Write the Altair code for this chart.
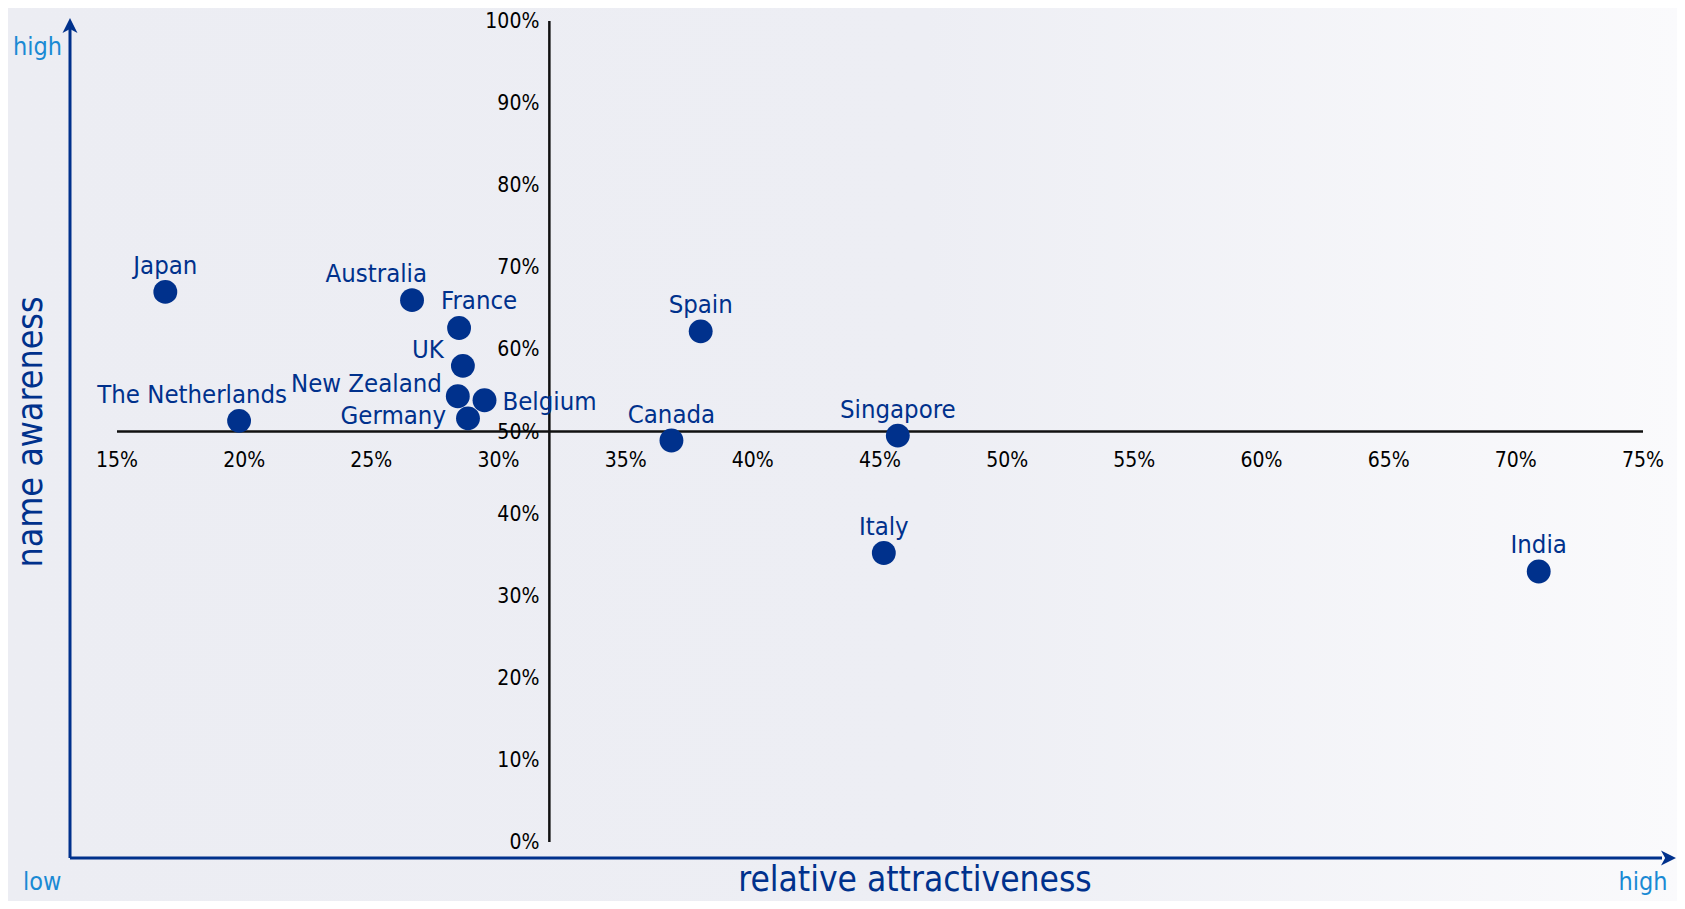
import altair as alt
import pandas as pd

# ---- data ----
countries = ["Japan", "Australia", "France", "UK", "New Zealand", "Belgium", "Germany",
             "The Netherlands", "Canada", "Spain", "Singapore", "Italy", "India"]
attractiveness = [16.9, 26.6, 28.45, 28.6, 28.4, 29.45, 28.8, 19.8, 36.8, 37.95, 45.7, 45.15, 70.9]
awareness = [67.0, 66.0, 62.6, 58.0, 54.3, 53.8, 51.6, 51.3, 48.9, 62.2, 49.5, 35.2, 32.95]
x_ticks = [15, 20, 25, 30, 35, 40, 45, 50, 55, 60, 65, 70, 75]
y_ticks = [0, 10, 20, 30, 40, 50, 60, 70, 80, 90, 100]
x_cross = 32   # attractiveness value where the vertical axis crosses
y_cross = 50   # awareness value where the horizontal axis crosses

# ---- style ----
FONT = "DejaVu Sans Condensed, DejaVu Sans"
DARK = "#00318C"
LIGHT = "#1A8AD4"
W, H = 1526, 821
PAD = {"left": 109, "top": 13, "right": 34, "bottom": 59}

# label placement (align, dx, dy) per country
placement = {
    "above": ("center", 0, -18, ["Japan", "Canada", "Spain", "Singapore", "Italy", "India"]),
    "aus": ("right", 15, -18, ["Australia"]),
    "fra": ("left", -18, -19, ["France"]),
    "ned": ("right", 48, -18, ["The Netherlands"]),
    "uk": ("right", -19, -8, ["UK"]),
    "nz": ("right", -16, -4, ["New Zealand"]),
    "ger": ("right", -22, 6, ["Germany"]),
    "bel": ("left", 18, 10, ["Belgium"]),
}

df = pd.DataFrame({"country": countries, "attr": attractiveness, "aware": awareness})
xs = alt.Scale(domain=[x_ticks[0], x_ticks[-1]], nice=False, zero=False)
ys = alt.Scale(domain=[y_ticks[0], y_ticks[-1]], nice=False, zero=False)
one = alt.Data(values=[{}])

layers = []

# background gradient over whole canvas
layers.append(
    alt.Chart(one).mark_rect(
        fill=alt.LinearGradient(
            gradient="linear", x1=0, x2=1, y1=0, y2=0,
            stops=[alt.GradientStop(color="#ECEDF3", offset=0),
                   alt.GradientStop(color="#EDEEF4", offset=0.55),
                   alt.GradientStop(color="#FAFAFC", offset=1)]),
    ).encode(x=alt.value(-PAD["left"]), x2=alt.value(W + PAD["right"]),
             y=alt.value(-PAD["top"]), y2=alt.value(H + PAD["bottom"]))
)

# outer arrows
AX_Y = 837
layers.append(alt.Chart(one).mark_rule(color=DARK, strokeWidth=3).encode(
    x=alt.value(-47), y=alt.value(AX_Y), y2=alt.value(7)))
layers.append(alt.Chart(one).mark_rule(color=DARK, strokeWidth=3).encode(
    x=alt.value(-47), x2=alt.value(1545), y=alt.value(AX_Y)))
layers.append(alt.Chart(one).mark_point(
    shape="M0,-1L1,1L0,0.45L-1,1Z", filled=True, color=DARK, opacity=1, size=225
).encode(x=alt.value(-47), y=alt.value(4.5)))
layers.append(alt.Chart(one).mark_point(
    shape="M1,0L-1,-1L-0.45,0L-1,1Z", filled=True, color=DARK, opacity=1, size=225
).encode(x=alt.value(1551.5), y=alt.value(AX_Y)))

# corner texts
for txt, xv, yv, al in [("high", -104, 34, "left"), ("low", -94, 869, "left"), ("high", 1526, 869, "center")]:
    layers.append(alt.Chart(one).mark_text(
        text=txt, font=FONT, fontSize=25, color=LIGHT, align=al, baseline="alphabetic"
    ).encode(x=alt.value(xv), y=alt.value(yv)))

# axis titles
layers.append(alt.Chart(one).mark_text(
    text="relative attractiveness", font=FONT, fontSize=35, color=DARK,
    align="center", baseline="alphabetic").encode(x=alt.value(798), y=alt.value(870)))
layers.append(alt.Chart(one).mark_text(
    text="name awareness", font=FONT, fontSize=35.5, color=DARK, angle=270,
    align="center", baseline="alphabetic").encode(x=alt.value(-75), y=alt.value(411)))

# cross lines
layers.append(alt.Chart(alt.Data(values=[{"a": x_ticks[0], "b": x_ticks[-1], "y": y_cross}]))
              .mark_rule(color="#111111", strokeWidth=2.5)
              .encode(x=alt.X("a:Q", scale=xs, axis=None), x2="b:Q",
                      y=alt.Y("y:Q", scale=ys, axis=None)))
layers.append(alt.Chart(alt.Data(values=[{"x": x_cross, "a": y_ticks[0], "b": y_ticks[-1]}]))
              .mark_rule(color="#111111", strokeWidth=2.5)
              .encode(x=alt.X("x:Q", scale=xs, axis=None),
                      y=alt.Y("a:Q", scale=ys, axis=None), y2="b:Q"))

# tick labels
xt = pd.DataFrame({"v": x_ticks, "c": [y_cross] * len(x_ticks)})
xt["lab"] = [f"{v}%" for v in x_ticks]
yt = pd.DataFrame({"v": y_ticks, "c": [x_cross] * len(y_ticks)})
yt["lab"] = [f"{v}%" for v in y_ticks]
layers.append(alt.Chart(xt).mark_text(font=FONT, fontSize=21, color="#000000",
                                      align="center", baseline="middle", dy=29)
              .encode(x=alt.X("v:Q", scale=xs, axis=None), y=alt.Y("c:Q", scale=ys, axis=None),
                      text="lab:N"))
layers.append(alt.Chart(yt).mark_text(font=FONT, fontSize=21, color="#000000",
                                      align="right", baseline="middle", dx=-10, dy=1)
              .encode(x=alt.X("c:Q", scale=xs, axis=None), y=alt.Y("v:Q", scale=ys, axis=None),
                      text="lab:N"))

# points
layers.append(alt.Chart(df).mark_circle(size=570, color=DARK, opacity=1).encode(
    x=alt.X("attr:Q", scale=xs, axis=None), y=alt.Y("aware:Q", scale=ys, axis=None)))

# country labels
for key, (al, dx, dy, names) in placement.items():
    layers.append(alt.Chart(df).transform_filter(
        alt.FieldOneOfPredicate(field="country", oneOf=names)
    ).mark_text(font=FONT, fontSize=25.5, color=DARK, align=al, baseline="alphabetic",
                dx=dx, dy=dy).encode(
        x=alt.X("attr:Q", scale=xs, axis=None), y=alt.Y("aware:Q", scale=ys, axis=None),
        text="country:N"))

chart = alt.layer(*layers).properties(
    width=W, height=H, padding=PAD, autosize="none", background="#ECEDF3"
).configure_view(stroke="transparent")

chart.save("out.html", embed_options={"renderer": "svg", "actions": False})
